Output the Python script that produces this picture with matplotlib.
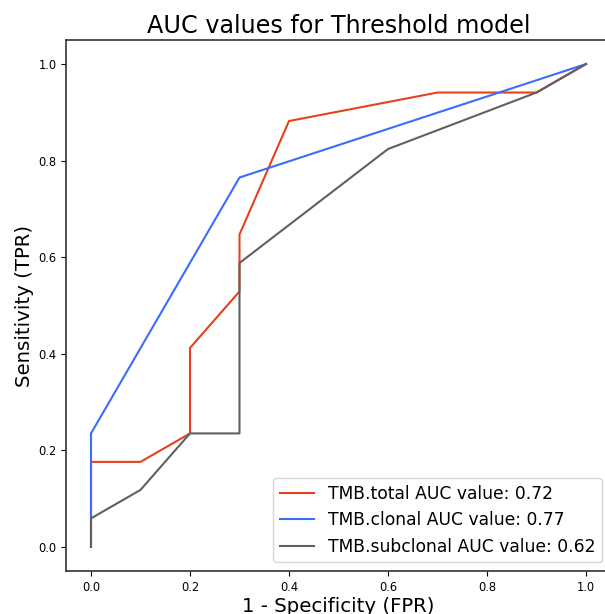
import matplotlib
matplotlib.use("Agg")
import matplotlib.pyplot as plt

# ROC points (steps of 1/17 on TPR)
fpr_total = [0.0, 0.0, 0.1, 0.2, 0.2, 0.3, 0.3, 0.4, 0.7, 0.9, 1.0]
tpr_total = [0.0, 0.176, 0.176, 0.235, 0.412, 0.529, 0.647, 0.882, 0.941, 0.941, 1.0]

fpr_clonal = [0.0, 0.0, 0.3, 1.0]
tpr_clonal = [0.0, 0.235, 0.765, 1.0]

fpr_sub = [0.0, 0.0, 0.1, 0.2, 0.3, 0.3, 0.6, 0.9, 1.0]
tpr_sub = [0.0, 0.059, 0.118, 0.235, 0.235, 0.588, 0.824, 0.941, 1.0]

labels = ["TMB.total AUC value: 0.72",
          "TMB.clonal AUC value: 0.77",
          "TMB.subclonal AUC value: 0.62"]

fig = plt.figure(figsize=(6.05, 6.14), dpi=100)
ax = fig.add_axes([0.1095, 0.070, 0.90, 0.865])

ax.plot(fpr_total, tpr_total, color="#e8401c", lw=1.5, label=labels[0])
ax.plot(fpr_clonal, tpr_clonal, color="#3a6cff", lw=1.5, label=labels[1])
ax.plot(fpr_sub, tpr_sub, color="#606060", lw=1.5, label=labels[2])

ax.set_xlim(-0.05, 1.05)
ax.set_ylim(-0.05, 1.05)
ax.set_xticks([0.0, 0.2, 0.4, 0.6, 0.8, 1.0])
ax.set_yticks([0.0, 0.2, 0.4, 0.6, 0.8, 1.0])
ax.tick_params(labelsize=8.3)
for s in ax.spines.values():
    s.set_color("#333333")
    s.set_linewidth(1.2)

ax.set_title("AUC values for Threshold model", fontsize=17.2, pad=5)
ax.set_xlabel("1 - Specificity (FPR)", fontsize=14.2, labelpad=2)
ax.set_ylabel("Sensitivity (TPR)", fontsize=14.2, labelpad=3)
ax.legend(loc="lower right", fontsize=12.3)

fig.savefig("out.png", dpi=100)
